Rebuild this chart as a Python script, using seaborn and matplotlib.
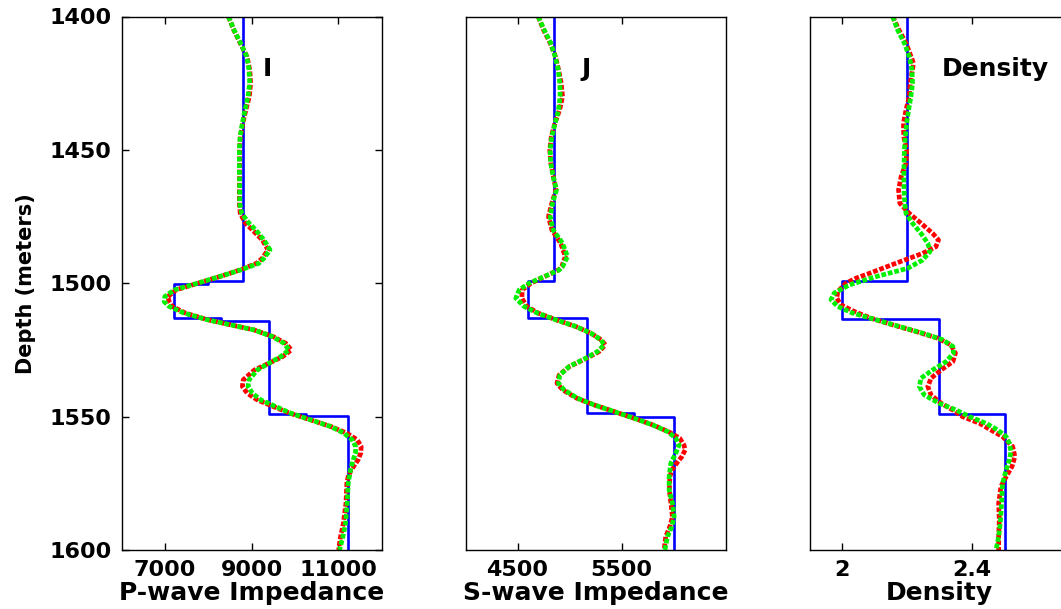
import numpy as np
import pandas as pd
import matplotlib
matplotlib.use("Agg")
import matplotlib.pyplot as plt
import seaborn as sns

# ---------------- data ----------------
# true (blocky) models: layer top depths and values
p_tops = [1400, 1499.1, 1500.4, 1513.1, 1514.0, 1549.0, 1549.7]
p_true = [8800, 8000, 7200, 8300, 9400, 10250, 11230]
s_tops = [1400, 1499.1, 1513.1, 1548.7, 1550.0]
s_true = [4850, 4600, 5170, 5620, 6000]
d_tops = [1400, 1499.1, 1513.4, 1549.0]
d_true = [2.2, 2.0, 2.3, 2.5]
depth_bottom = 1600

# P-wave impedance inversions
p_green_depth = [1400, 1405.1, 1410.1, 1415, 1420, 1425, 1430, 1435, 1440, 1445,
                 1450, 1457.5, 1465, 1470, 1473.8, 1477.5, 1480, 1483.8, 1487.5, 1490.6,
                 1492.5, 1495, 1497.5, 1500, 1502.5, 1505, 1506.9, 1508.7, 1511.2, 1513.7,
                 1515.6, 1517.5, 1520, 1522.5, 1525, 1527.5, 1530, 1532.5, 1536.2, 1538.7,
                 1541.2, 1543.7, 1546.2, 1548.7, 1551.2, 1553.7, 1556.2, 1558.7, 1561.2, 1563.7,
                 1566.2, 1570, 1575, 1582.5, 1590, 1595, 1600]
p_green = [8467, 8597, 8751, 8889, 8943, 8958, 8920, 8851, 8789, 8736,
           8720, 8720, 8728, 8728, 8774, 8943, 9097, 9289, 9427, 9289,
           9173, 8751, 8260, 7753, 7215, 7000, 6985, 7100, 7445, 7983,
           8521, 9058, 9481, 9749, 9865, 9673, 9404, 9135, 8943, 8920,
           9020, 9212, 9557, 9903, 10364, 10825, 11132, 11324, 11401, 11401,
           11347, 11285, 11232, 11208, 11170, 11109, 11032]
p_red_depth = [1400, 1405, 1410, 1415, 1420, 1425, 1430, 1435, 1440, 1445,
               1450, 1457.5, 1465, 1470, 1473.8, 1477.5, 1480, 1483.8, 1487.5, 1490.6,
               1492.5, 1495, 1497.5, 1500, 1502.5, 1505, 1506.9, 1508.7, 1511.2, 1513.7,
               1515.6, 1517.5, 1520, 1522.5, 1525, 1527.5, 1530, 1532.5, 1536.2, 1538.7,
               1541.2, 1543.7, 1546.2, 1548.7, 1551.2, 1553.7, 1556.2, 1558.7, 1561.2, 1563.7,
               1566.2, 1570, 1572.5, 1575, 1582.5, 1590, 1595, 1600]
p_red = [8467, 8590, 8740, 8895, 8960, 8980, 8950, 8870, 8800, 8745,
         8725, 8725, 8720, 8720, 8740, 8860, 9020, 9250, 9380, 9250,
         9120, 8740, 8270, 7760, 7260, 7070, 7100, 7170, 7480, 7990,
         8520, 9060, 9500, 9790, 9918, 9720, 9400, 9070, 8810, 8789,
         8900, 9130, 9500, 9880, 10360, 10830, 11200, 11440, 11531, 11520,
         11460, 11300, 11230, 11200, 11180, 11120, 11055, 11010]

# S-wave impedance inversions
s_green_depth = [1400, 1405, 1410, 1415, 1420, 1425, 1430, 1435, 1440, 1445,
                 1450, 1455, 1460, 1465, 1470, 1475, 1480, 1485, 1490, 1493.8,
                 1495, 1497.5, 1500, 1502.5, 1505.6, 1508.7, 1511.2, 1513.7, 1516.2, 1518.7,
                 1521.2, 1523.1, 1525.6, 1528.1, 1531.2, 1534.4, 1537.5, 1540, 1543.1, 1545.6,
                 1548.1, 1550.6, 1553.1, 1555.6, 1558.1, 1560.6, 1563.7, 1567.5, 1572.5, 1577.5,
                 1582.5, 1587.5, 1591.2, 1595, 1600]
s_green = [4699, 4756, 4820, 4862, 4891, 4907, 4910, 4894, 4862, 4830,
           4814, 4820, 4843, 4875, 4837, 4814, 4843, 4933, 4981, 4933,
           4901, 4756, 4612, 4516, 4484, 4564, 4692, 4869, 5061, 5205,
           5301, 5333, 5269, 5157, 4997, 4907, 4894, 4949, 5077, 5237,
           5429, 5622, 5798, 5942, 6022, 6054, 6022, 5974, 5958, 5958,
           5990, 6006, 5984, 5942, 5917]
s_red_depth = [1400, 1405, 1410, 1415, 1420, 1425, 1430, 1435, 1440, 1445,
               1450, 1455, 1460, 1465, 1470, 1475, 1480, 1485, 1490, 1493.8,
               1495, 1497.5, 1500, 1502.5, 1505.6, 1508.7, 1511.2, 1513.7, 1516.2, 1518.7,
               1521.2, 1523.1, 1525.6, 1528.1, 1531.2, 1534.4, 1537.5, 1540, 1543.1, 1545.6,
               1548.1, 1550.6, 1553.1, 1555.6, 1558.1, 1560.6, 1562.5, 1565, 1567.5, 1570,
               1572.5, 1577.5, 1582.5, 1587.5, 1591.2, 1595, 1600]
s_red = [4699, 4750, 4815, 4865, 4895, 4920, 4933, 4905, 4860, 4825,
         4810, 4820, 4845, 4870, 4830, 4798, 4830, 4915, 4960, 4925,
         4895, 4760, 4630, 4545, 4542, 4590, 4700, 4870, 5060, 5205,
         5305, 5345, 5285, 5165, 5000, 4900, 4880, 4935, 5070, 5235,
         5430, 5620, 5800, 5950, 6060, 6100, 6112, 6080, 6030, 5985,
         5965, 5960, 5975, 5990, 5965, 5925, 5910]

# Density inversions
d_green_depth = [1400, 1405, 1410, 1415, 1420, 1425, 1430, 1435, 1440, 1445,
                 1450, 1455, 1460, 1465, 1470, 1473.8, 1477.5, 1481.3, 1485, 1488.1,
                 1491.3, 1494.4, 1497.5, 1500.6, 1503.7, 1506.2, 1508.7, 1511.2, 1513.7, 1516.2,
                 1518.7, 1521.2, 1523.7, 1526.2, 1529.4, 1532.5, 1535.6, 1538.7, 1541.9, 1545,
                 1547.5, 1550, 1552.5, 1555, 1557.5, 1560, 1563.1, 1566.2, 1570, 1575,
                 1582.5, 1590, 1595, 1600]
d_green = [2.156, 2.171, 2.192, 2.207, 2.215, 2.217, 2.212, 2.205, 2.199, 2.195,
           2.192, 2.191, 2.190, 2.191, 2.193, 2.197, 2.217, 2.243, 2.264, 2.271,
           2.248, 2.202, 2.105, 2.023, 1.976, 1.966, 1.987, 2.033, 2.105, 2.176,
           2.248, 2.310, 2.341, 2.343, 2.320, 2.279, 2.243, 2.238, 2.253, 2.299,
           2.351, 2.392, 2.443, 2.479, 2.505, 2.515, 2.520, 2.515, 2.505, 2.494,
           2.491, 2.487, 2.482, 2.474]
d_red_depth = [1400, 1405, 1410, 1417.5, 1425, 1430, 1435, 1440, 1445, 1450,
               1455, 1460, 1465, 1470, 1473.8, 1477.5, 1481.3, 1483.8, 1486.3, 1488.8,
               1492.5, 1496.3, 1498.1, 1500, 1503.1, 1505.6, 1508.1, 1510.6, 1513.1, 1515.6,
               1518.1, 1520.6, 1523.1, 1526.2, 1529.4, 1532.5, 1535.6, 1538.7, 1541.9, 1545,
               1547.5, 1550, 1552.5, 1555, 1557.5, 1561.2, 1565, 1568.7, 1572.5, 1576.2,
               1582.5, 1588.7, 1595, 1600]
d_red = [2.156, 2.175, 2.197, 2.220, 2.210, 2.207, 2.197, 2.189, 2.190, 2.199,
         2.197, 2.182, 2.174, 2.178, 2.207, 2.243, 2.279, 2.297, 2.289, 2.248,
         2.166, 2.084, 2.043, 2.012, 1.987, 1.984, 1.997, 2.038, 2.089, 2.156,
         2.228, 2.294, 2.335, 2.349, 2.341, 2.305, 2.274, 2.264, 2.274, 2.305,
         2.341, 2.371, 2.423, 2.458, 2.494, 2.525, 2.532, 2.523, 2.505, 2.489,
         2.482, 2.484, 2.482, 2.482]

y_ticks = [1400, 1450, 1500, 1550, 1600]
p_xticks = [7000, 9000, 11000]
s_xticks = [4500, 5500]
d_xticks = [2, 2.4]
d_xticklabels = ["2", "2.4"]
labels = ["P-wave Impedance", "S-wave Impedance", "Density"]
panel_titles = ["I", "J", "Density"]

# ---------------- style ----------------
sns.set_style("ticks")
plt.rcParams["font.family"] = ["DejaVu Sans"]
plt.rcParams["font.weight"] = "bold"
plt.rcParams["axes.labelweight"] = "bold"

W, H = 1061, 609
fig = plt.figure(figsize=(W / 100, H / 100), dpi=100)


def add_ax(left_px):
    return fig.add_axes([left_px / W, 59 / H, 260 / W, 533.5 / H])


axes = [add_ax(121.5), add_ax(465.5), add_ax(809.5)]


def step_xy(tops, vals, bottom):
    xs, ys = [], []
    for i, (t, v) in enumerate(zip(tops, vals)):
        b = tops[i + 1] if i + 1 < len(tops) else bottom
        xs += [v, v]
        ys += [t, b]
    return xs, ys


panels = [
    (p_tops, p_true, p_red_depth, p_red, p_green_depth, p_green, (6000, 12000), p_xticks, None, (9370, 1419.7)),
    (s_tops, s_true, s_red_depth, s_red, s_green_depth, s_green, (4000, 6500), s_xticks, None, (5160, 1419.7)),
    (d_tops, d_true, d_red_depth, d_red, d_green_depth, d_green, (1.9, 2.7), d_xticks, d_xticklabels, (2.473, 1419.7)),
]

dotted = (0, (1.0, 0.4))
for i, (ax, pan) in enumerate(zip(axes, panels)):
    tops, true, rd, rv, gd, gv, xlim, xt, xtl, tpos = pan
    bx, by = step_xy(tops, true, depth_bottom)
    sns.lineplot(x=bx, y=by, sort=False, estimator=None, color="#0000ff",
                 linewidth=1.9, ax=ax)
    sns.lineplot(x=rv, y=rd, orient="y", estimator=None, color="#ff0000",
                 linewidth=3.4, linestyle=dotted, ax=ax)
    sns.lineplot(x=gv, y=gd, orient="y", estimator=None, color="#00f000",
                 linewidth=3.4, linestyle=dotted, ax=ax)
    ax.set_xlim(*xlim)
    ax.set_ylim(1600, 1400)
    ax.set_xticks(xt)
    if xtl is not None:
        ax.set_xticklabels(xtl)
    for sp in ax.spines.values():
        sp.set_color("black")
        sp.set_linewidth(1.0)
        sp.set_visible(True)
    ax.tick_params(direction="in", length=5, width=1, colors="black",
                   labelsize=16, top=True, right=True, pad=7)
    ax.set_xlabel(labels[i], fontsize=18, fontweight="bold", color="black")
    ax.xaxis.set_label_coords(0.5, -0.058)
    ax.text(tpos[0], tpos[1], panel_titles[i], fontsize=18, fontweight="bold",
            ha="center", va="center", color="black")
    if i == 0:
        ax.set_yticks(y_ticks)
        ax.set_ylabel("Depth (meters)", fontsize=15, fontweight="bold", color="black")
        ax.yaxis.set_label_coords(-0.33, 0.5)
    else:
        ax.set_yticks([])
        ax.set_ylabel("")
    for lab in ax.get_xticklabels() + ax.get_yticklabels():
        lab.set_fontweight("bold")

fig.savefig("out.png", dpi=100, facecolor="white")
